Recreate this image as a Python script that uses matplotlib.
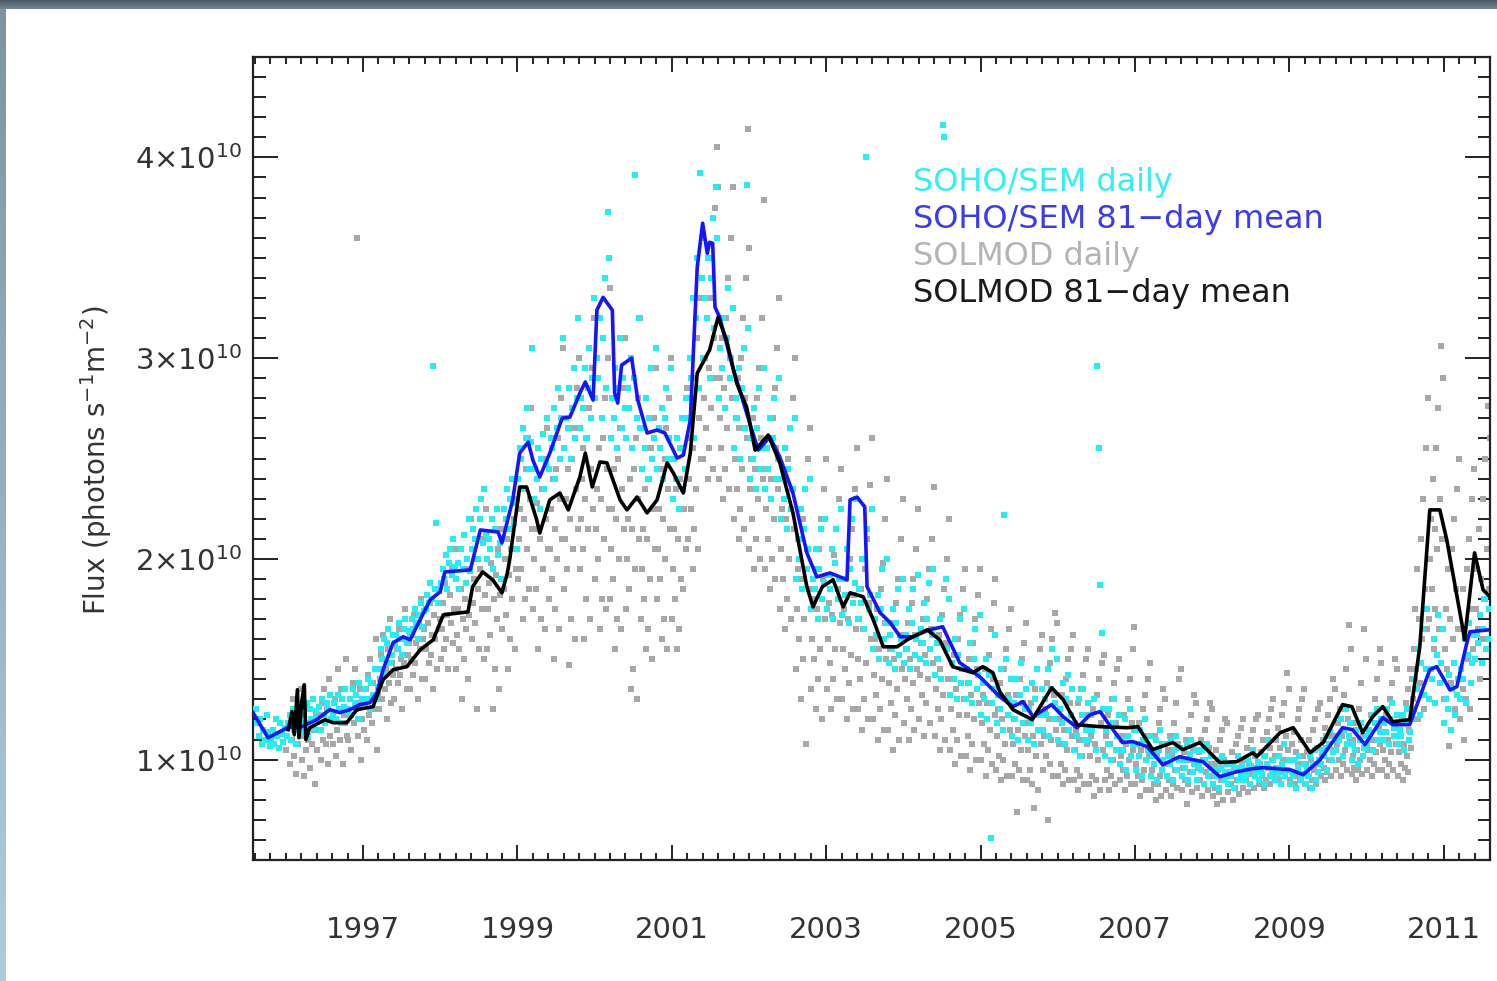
import numpy as np
import matplotlib
matplotlib.use("Agg")
import matplotlib.pyplot as plt
from matplotlib.ticker import MultipleLocator, FixedLocator

# flux values are in units of 1e10 photons s^-1 m^-2, time in decimal years

# SOHO/SEM 81-day mean
sem_mean_t = [1995.575, 1995.77, 1996.02, 1996.21, 1996.40, 1996.57, 1996.70, 1996.83, 1996.96,
              1997.09, 1997.18, 1997.26, 1997.39, 1997.52, 1997.61, 1997.74, 1997.87, 1998.00,
              1998.06, 1998.39, 1998.52, 1998.75, 1998.80, 1998.94, 1999.03, 1999.14, 1999.20,
              1999.29, 1999.42, 1999.58, 1999.68, 1999.81, 1999.88, 1999.98, 2000.03, 2000.11,
              2000.23, 2000.26, 2000.30, 2000.35, 2000.48, 2000.56, 2000.68, 2000.81, 2000.91,
              2001.07, 2001.15, 2001.24, 2001.33, 2001.40, 2001.46, 2001.49, 2001.53, 2001.56,
              2001.62, 2001.79, 2001.97, 2002.12, 2002.27, 2002.40, 2002.57, 2002.75, 2002.88,
              2003.05, 2003.27, 2003.31, 2003.40, 2003.50, 2003.53, 2003.70, 2003.83, 2003.96,
              2004.12, 2004.34, 2004.51, 2004.73, 2004.99, 2005.25, 2005.42, 2005.55, 2005.68,
              2005.92, 2006.07, 2006.25, 2006.42, 2006.55, 2006.64, 2006.84, 2006.97, 2007.16,
              2007.36, 2007.58, 2007.75, 2007.88, 2008.10, 2008.32, 2008.53, 2008.66, 2009.01,
              2009.18, 2009.40, 2009.69, 2009.82, 2009.98, 2010.21, 2010.34, 2010.56, 2010.82,
              2010.91, 2011.08, 2011.17, 2011.30, 2011.34, 2011.60]
sem_mean_f = [1.234, 1.109, 1.159, 1.164, 1.199, 1.249, 1.234, 1.249, 1.274,
              1.284, 1.333, 1.448, 1.582, 1.612, 1.597, 1.697, 1.796, 1.836,
              1.935, 1.945, 2.144, 2.134, 2.080, 2.294, 2.527, 2.582, 2.493,
              2.408, 2.527, 2.701, 2.706, 2.826, 2.881, 2.791, 3.239, 3.303,
              3.239, 2.826, 2.776, 2.965, 3.000, 2.791, 2.627, 2.642, 2.627,
              2.502, 2.517, 2.692, 3.453, 3.672, 3.522, 3.577, 3.572, 3.254,
              3.204, 2.955, 2.726, 2.542, 2.607, 2.507, 2.328, 2.030, 1.910,
              1.930, 1.896, 2.294, 2.308, 2.259, 1.861, 1.731, 1.682, 1.612,
              1.612, 1.647, 1.662, 1.483, 1.413, 1.313, 1.264, 1.289, 1.214,
              1.274, 1.214, 1.159, 1.224, 1.239, 1.189, 1.085, 1.090, 1.065,
              0.975, 1.015, 1.000, 0.990, 0.915, 0.940, 0.955, 0.960, 0.950,
              0.925, 1.000, 1.159, 1.149, 1.075, 1.209, 1.174, 1.174, 1.448,
              1.463, 1.348, 1.363, 1.582, 1.637, 1.647]

# SOLMOD 81-day mean
solmod_mean_t = [1996.03, 1996.08, 1996.11, 1996.15, 1996.17, 1996.21, 1996.24, 1996.26, 1996.31,
                 1996.51, 1996.61, 1996.79, 1996.92, 1997.13, 1997.26, 1997.39, 1997.57, 1997.74,
                 1997.91, 1998.04, 1998.36, 1998.42, 1998.55, 1998.68, 1998.80, 1998.87, 1998.90,
                 1999.03, 1999.12, 1999.25, 1999.29, 1999.42, 1999.55, 1999.66, 1999.81, 1999.88,
                 1999.97, 2000.07, 2000.16, 2000.33, 2000.42, 2000.55, 2000.68, 2000.81, 2000.94,
                 2001.02, 2001.15, 2001.24, 2001.33, 2001.49, 2001.60, 2001.71, 2001.84, 2001.97,
                 2002.08, 2002.25, 2002.40, 2002.57, 2002.75, 2002.83, 2002.95, 2003.09, 2003.22,
                 2003.31, 2003.48, 2003.61, 2003.74, 2003.92, 2004.05, 2004.31, 2004.47, 2004.64,
                 2004.90, 2005.03, 2005.16, 2005.25, 2005.42, 2005.67, 2005.92, 2006.07, 2006.25,
                 2006.55, 2006.90, 2007.04, 2007.23, 2007.49, 2007.62, 2007.84, 2008.10, 2008.32,
                 2008.53, 2008.58, 2008.88, 2009.05, 2009.27, 2009.44, 2009.69, 2009.81, 2009.95,
                 2010.08, 2010.21, 2010.34, 2010.56, 2010.69, 2010.82, 2010.95, 2011.04, 2011.25,
                 2011.27, 2011.40, 2011.51, 2011.60]
solmod_mean_f = [1.149, 1.239, 1.124, 1.348, 1.109, 1.299, 1.373, 1.100, 1.159,
                 1.199, 1.184, 1.184, 1.249, 1.264, 1.398, 1.448, 1.463, 1.547,
                 1.597, 1.721, 1.736, 1.861, 1.935, 1.896, 1.831, 1.930, 1.995,
                 2.358, 2.358, 2.194, 2.129, 2.294, 2.328, 2.244, 2.408, 2.527,
                 2.358, 2.483, 2.478, 2.294, 2.244, 2.308, 2.229, 2.294, 2.478,
                 2.428, 2.328, 2.527, 2.925, 3.040, 3.204, 3.090, 2.876, 2.756,
                 2.542, 2.617, 2.478, 2.229, 1.861, 1.761, 1.861, 1.896, 1.761,
                 1.831, 1.811, 1.697, 1.562, 1.562, 1.597, 1.647, 1.597, 1.463,
                 1.433, 1.463, 1.433, 1.338, 1.249, 1.199, 1.358, 1.299, 1.174,
                 1.164, 1.159, 1.164, 1.050, 1.085, 1.050, 1.085, 0.985, 0.990,
                 1.035, 1.015, 1.134, 1.159, 1.035, 1.085, 1.274, 1.264, 1.134,
                 1.214, 1.264, 1.189, 1.199, 1.562, 2.244, 2.244, 2.095, 1.647,
                 1.597, 2.030, 1.846, 1.811]

# daily values, grouped in 0.2-year bins starting at 1995.6
bin_start = 1995.6
bin_width = 0.2

sem_daily = [
    [1.25, 1.18, 1.12, 1.20, 1.08, 1.15, 1.10, 1.22, 1.14, 1.07],
    [1.10, 1.15, 1.08, 1.20, 1.12, 1.06, 1.18, 1.13, 1.09, 1.16],
    [1.12, 1.18, 1.22, 1.10, 1.25, 1.15, 1.08, 1.20, 1.28, 1.14],
    [1.15, 1.22, 1.18, 1.28, 1.12, 1.25, 1.20, 1.30, 1.16, 1.24],
    [1.20, 1.26, 1.15, 1.30, 1.22, 1.18, 1.28, 1.25, 1.32, 1.20],
    [1.22, 1.28, 1.20, 1.32, 1.25, 1.18, 1.30, 1.26, 1.35, 1.24],
    [1.25, 1.30, 1.22, 1.35, 1.28, 1.32, 1.20, 1.38, 1.26, 1.30],
    [1.28, 1.35, 1.30, 1.40, 1.25, 1.38, 1.32, 1.45, 1.30, 1.36],
    [1.45, 1.55, 1.50, 1.60, 1.42, 1.58, 1.65, 1.48, 1.52, 1.62],
    [1.58, 1.62, 1.55, 1.68, 1.60, 1.52, 1.65, 1.70, 1.58, 1.64],
    [1.62, 1.70, 1.65, 1.75, 1.68, 1.60, 1.72, 1.78, 1.66, 1.74],
    [1.75, 1.82, 1.78, 1.88, 1.80, 2.96, 1.85, 2.18, 1.78, 1.84],
    [1.88, 1.95, 1.90, 2.02, 1.85, 1.98, 2.05, 1.92, 2.10, 1.96],
    [1.90, 1.98, 1.85, 2.05, 1.95, 2.12, 1.88, 2.00, 2.20, 1.94],
    [2.05, 2.15, 2.10, 2.25, 2.00, 2.20, 2.30, 2.08, 2.35, 2.12],
    [2.00, 2.10, 2.05, 2.20, 1.95, 2.15, 2.25, 2.02, 2.08, 1.90],
    [2.10, 2.25, 2.20, 2.35, 2.15, 2.30, 2.40, 2.18, 2.28, 2.05],
    [2.40, 2.55, 2.50, 2.65, 2.35, 2.60, 2.75, 2.45, 2.58, 3.05],
    [2.30, 2.45, 2.40, 2.55, 2.25, 2.50, 2.62, 2.35, 2.48, 2.70],
    [2.45, 2.60, 2.55, 2.75, 2.40, 2.65, 2.85, 2.50, 2.70, 3.10],
    [2.55, 2.70, 2.65, 2.85, 2.50, 2.75, 2.95, 2.60, 2.80, 3.20],
    [2.65, 2.80, 2.75, 2.95, 2.60, 2.85, 3.05, 2.70, 2.90, 3.30],
    [2.80, 3.00, 2.90, 3.20, 2.70, 3.10, 3.40, 2.85, 3.73, 3.50],
    [2.60, 2.80, 2.70, 2.95, 2.55, 2.85, 3.10, 2.65, 2.90, 2.75],
    [2.60, 2.85, 2.75, 3.00, 2.55, 2.90, 3.91, 2.70, 3.20, 2.65],
    [2.45, 2.65, 2.55, 2.80, 2.40, 2.70, 2.95, 2.50, 2.60, 3.05],
    [2.45, 2.65, 2.55, 2.75, 2.40, 2.70, 2.85, 2.50, 2.60, 2.95],
    [2.30, 2.50, 2.40, 2.60, 2.25, 2.55, 2.70, 2.35, 2.45, 2.80],
    [2.70, 3.00, 2.90, 3.30, 2.60, 3.20, 3.50, 2.85, 3.92, 3.40],
    [3.00, 3.30, 3.20, 3.50, 2.90, 3.40, 3.70, 3.15, 3.85, 3.60],
    [2.80, 3.05, 2.95, 3.20, 2.75, 3.10, 3.35, 2.90, 3.00, 3.25],
    [2.55, 2.80, 2.70, 2.95, 2.50, 2.85, 3.05, 2.65, 3.86, 3.15],
    [2.40, 2.60, 2.50, 2.75, 2.35, 2.65, 2.85, 2.45, 2.55, 2.95],
    [2.35, 2.55, 2.45, 2.70, 2.30, 2.60, 2.80, 2.40, 2.50, 2.90],
    [2.20, 2.40, 2.30, 2.55, 2.15, 2.45, 2.65, 2.25, 2.35, 2.70],
    [1.90, 2.10, 2.00, 2.25, 1.85, 2.15, 2.35, 1.95, 2.05, 2.40],
    [1.75, 1.90, 1.85, 2.05, 1.70, 1.95, 2.15, 1.80, 1.88, 2.20],
    [1.75, 1.92, 1.85, 2.05, 1.70, 1.98, 2.15, 1.80, 1.90, 2.25],
    [1.72, 1.90, 1.82, 2.05, 1.68, 1.95, 2.20, 1.78, 1.88, 2.30],
    [1.70, 1.85, 1.78, 2.00, 1.65, 4.00, 2.15, 1.75, 1.82, 2.25],
    [1.55, 1.70, 1.62, 1.82, 1.50, 1.75, 1.95, 1.60, 1.68, 2.00],
    [1.48, 1.62, 1.55, 1.75, 1.45, 1.68, 1.85, 1.52, 1.60, 1.90],
    [1.48, 1.62, 1.55, 1.75, 1.45, 1.68, 1.85, 1.52, 1.60, 1.92],
    [1.50, 1.65, 1.58, 1.78, 1.48, 1.70, 1.88, 1.55, 1.62, 1.95],
    [1.42, 1.58, 1.50, 1.70, 1.40, 4.16, 4.10, 1.90, 1.55, 1.80],
    [1.32, 1.48, 1.40, 1.60, 1.30, 1.52, 1.70, 1.38, 1.45, 1.75],
    [1.30, 1.45, 1.38, 1.58, 1.28, 1.50, 1.65, 1.35, 1.42, 1.72],
    [1.22, 1.38, 1.30, 1.50, 1.20, 1.42, 0.61, 1.28, 1.35, 1.62],
    [1.18, 1.32, 1.25, 1.45, 1.15, 2.22, 1.50, 1.22, 1.30, 1.40],
    [1.12, 1.28, 1.20, 1.40, 1.10, 1.32, 1.48, 1.18, 1.25, 1.35],
    [1.10, 1.25, 1.18, 1.38, 1.08, 1.30, 1.45, 1.15, 1.22, 1.35],
    [1.15, 1.30, 1.22, 1.45, 1.12, 1.35, 1.55, 1.20, 1.28, 1.50],
    [1.10, 1.25, 1.18, 1.38, 1.08, 1.30, 1.42, 1.15, 1.22, 1.35],
    [1.05, 1.18, 1.12, 1.30, 1.02, 1.22, 1.35, 1.10, 1.15, 1.28],
    [1.10, 1.22, 1.15, 1.30, 1.05, 2.96, 2.55, 1.87, 1.63, 1.25],
    [1.02, 1.15, 1.08, 1.25, 1.00, 1.18, 1.30, 1.05, 1.12, 1.22],
    [0.98, 1.10, 1.05, 1.20, 0.95, 1.12, 1.25, 1.02, 1.08, 1.15],
    [0.95, 1.08, 1.02, 1.15, 0.92, 1.10, 1.20, 1.00, 1.05, 1.12],
    [0.92, 1.02, 0.98, 1.10, 0.90, 1.05, 1.15, 0.95, 1.00, 1.08],
    [0.92, 1.02, 0.98, 1.10, 0.90, 1.05, 1.12, 0.95, 1.00, 1.06],
    [0.92, 1.00, 0.96, 1.08, 0.90, 1.03, 1.10, 0.94, 0.98, 1.05],
    [0.90, 0.98, 0.95, 1.05, 0.88, 1.00, 1.08, 0.92, 0.96, 1.02],
    [0.88, 0.95, 0.92, 1.00, 0.86, 0.96, 1.02, 0.90, 0.94, 0.98],
    [0.88, 0.94, 0.92, 0.98, 0.86, 0.96, 1.02, 0.90, 0.93, 0.97],
    [0.90, 0.95, 0.93, 1.00, 0.88, 0.97, 1.05, 0.92, 0.94, 0.99],
    [0.90, 0.96, 0.93, 1.02, 0.88, 0.98, 1.10, 0.92, 0.95, 1.00],
    [0.90, 0.96, 0.93, 1.02, 0.88, 0.98, 1.08, 0.92, 0.95, 1.00],
    [0.88, 0.94, 0.92, 1.00, 0.86, 0.96, 1.02, 0.90, 0.93, 0.98],
    [0.88, 0.95, 0.92, 1.02, 0.86, 0.98, 1.05, 0.90, 0.94, 1.00],
    [0.98, 1.05, 1.02, 1.12, 0.95, 1.08, 1.15, 1.00, 1.04, 1.10],
    [1.05, 1.12, 1.10, 1.20, 1.02, 1.15, 1.25, 1.08, 1.12, 1.18],
    [1.00, 1.08, 1.05, 1.15, 0.98, 1.10, 1.18, 1.02, 1.06, 1.12],
    [1.08, 1.15, 1.12, 1.22, 1.05, 1.18, 1.25, 1.10, 1.14, 1.20],
    [1.10, 1.18, 1.14, 1.25, 1.08, 1.20, 1.28, 1.12, 1.16, 1.22],
    [1.08, 1.15, 1.12, 1.22, 1.05, 1.18, 1.25, 1.10, 1.14, 1.20],
    [1.25, 1.40, 1.35, 1.55, 1.22, 1.48, 1.65, 1.32, 1.45, 1.75],
    [1.30, 1.45, 1.40, 1.60, 1.28, 1.52, 1.72, 1.38, 1.48, 1.65],
    [1.18, 1.30, 1.25, 1.42, 1.15, 1.35, 1.48, 1.22, 1.32, 1.40],
    [1.30, 1.45, 1.40, 1.60, 1.28, 1.52, 1.68, 1.38, 1.48, 1.62],
    [1.50, 1.62, 1.58, 1.72, 1.48, 1.65, 1.80, 1.55, 1.60, 1.75],
]

solmod_daily = [
    [],
    [],
    [1.05, 1.12, 1.18, 0.98, 1.22, 1.10, 1.30, 1.02, 1.15, 0.93, 1.25, 1.08, 1.20, 1.35],
    [1.00, 1.12, 0.92, 1.18, 1.05, 1.25, 1.10, 0.96, 1.20, 1.08, 1.30, 1.15, 0.88, 1.22],
    [1.05, 1.15, 1.22, 1.00, 1.28, 1.10, 1.35, 1.18, 1.08, 1.25, 0.98, 1.40, 1.12, 1.20],
    [1.08, 1.20, 1.30, 1.02, 1.15, 1.45, 1.25, 1.10, 1.35, 0.98, 1.22, 1.18, 1.50, 1.12],
    [1.10, 1.22, 1.30, 1.05, 1.38, 1.18, 1.45, 1.25, 3.60, 1.12, 1.28, 1.35, 1.00, 1.20],
    [1.15, 1.28, 1.35, 1.10, 1.42, 1.22, 1.50, 1.30, 1.18, 1.38, 1.25, 1.60, 1.05, 1.32],
    [1.25, 1.40, 1.52, 1.30, 1.62, 1.35, 1.45, 1.20, 1.55, 1.38, 1.70, 1.28, 1.48, 1.42],
    [1.30, 1.45, 1.55, 1.38, 1.65, 1.42, 1.50, 1.25, 1.60, 1.48, 1.75, 1.35, 1.52, 1.58],
    [1.35, 1.50, 1.62, 1.42, 1.72, 1.48, 1.58, 1.30, 1.68, 1.55, 1.80, 1.40, 1.60, 1.65],
    [1.40, 1.55, 1.68, 1.48, 1.78, 1.52, 1.62, 1.35, 1.72, 1.60, 1.85, 1.45, 1.65, 1.70],
    [1.50, 1.65, 1.78, 1.55, 1.88, 1.60, 1.72, 1.45, 1.82, 1.68, 1.95, 1.58, 1.75, 2.05],
    [1.45, 1.62, 1.75, 1.55, 1.85, 1.30, 1.70, 1.50, 1.80, 1.65, 1.95, 1.40, 1.72, 2.20],
    [1.60, 1.78, 1.90, 1.68, 2.00, 1.25, 1.85, 1.55, 1.95, 1.75, 2.10, 1.50, 1.82, 2.25],
    [1.55, 1.75, 1.88, 1.62, 1.98, 1.25, 1.80, 1.45, 1.92, 1.70, 2.05, 1.35, 1.82, 2.15],
    [1.65, 1.85, 2.00, 1.72, 2.10, 1.45, 1.92, 1.60, 2.05, 1.80, 2.20, 1.55, 1.95, 2.30],
    [1.90, 2.10, 2.25, 1.95, 2.35, 1.70, 2.20, 1.80, 2.45, 2.05, 2.60, 1.85, 2.30, 2.75, 2.15],
    [1.75, 2.00, 2.15, 1.85, 2.28, 1.55, 2.10, 1.70, 2.35, 1.95, 2.50, 1.65, 2.20, 2.65, 2.05],
    [1.80, 2.05, 2.25, 1.90, 2.40, 1.50, 2.15, 1.75, 2.45, 2.00, 2.60, 1.65, 2.30, 2.80, 2.10, 3.05],
    [1.85, 2.10, 2.30, 1.95, 2.45, 1.47, 2.20, 1.70, 2.50, 2.05, 2.65, 1.60, 2.35, 2.85, 2.15, 3.00],
    [1.95, 2.20, 2.40, 2.05, 2.55, 1.60, 2.30, 1.80, 2.60, 2.15, 2.75, 1.70, 2.45, 2.95, 2.25, 3.20],
    [1.90, 2.15, 2.35, 2.00, 2.55, 1.65, 2.30, 1.80, 2.60, 2.10, 2.80, 1.75, 2.45, 3.00, 2.25, 3.35],
    [1.80, 2.05, 2.25, 1.90, 2.45, 1.55, 2.20, 1.70, 2.50, 2.00, 2.65, 1.65, 2.35, 2.85, 2.15, 3.10],
    [1.75, 2.00, 2.20, 1.85, 2.40, 1.35, 2.15, 1.45, 2.45, 1.95, 2.60, 1.30, 2.30, 2.80, 2.10, 3.20],
    [1.70, 1.95, 2.15, 1.80, 2.35, 1.55, 2.10, 1.65, 2.40, 1.90, 2.55, 1.50, 2.25, 2.70, 2.05, 2.95],
    [1.80, 2.05, 2.25, 1.90, 2.45, 1.60, 2.20, 1.70, 2.50, 2.00, 2.65, 1.55, 2.35, 2.80, 2.15, 3.00],
    [1.70, 1.95, 2.15, 1.80, 2.35, 1.55, 2.10, 1.65, 2.40, 1.90, 2.55, 1.85, 2.25, 2.70, 2.05, 2.85],
    [2.10, 2.40, 2.60, 2.25, 2.80, 1.95, 2.55, 2.15, 2.90, 2.35, 3.10, 2.05, 2.70, 3.30, 2.50, 3.60],
    [2.50, 2.80, 3.00, 2.65, 3.20, 2.40, 2.95, 2.55, 3.30, 2.75, 3.50, 2.45, 3.10, 3.75, 2.90, 4.05, 3.85],
    [2.40, 2.70, 2.90, 2.55, 3.10, 2.30, 2.85, 2.45, 3.20, 2.65, 3.40, 2.35, 3.00, 3.60, 2.80, 3.85],
    [2.20, 2.50, 2.70, 2.35, 2.90, 2.10, 2.65, 2.25, 3.00, 2.45, 3.20, 2.15, 2.80, 3.40, 2.60, 4.14, 3.55],
    [2.05, 2.35, 2.50, 2.20, 2.70, 1.95, 2.45, 2.10, 2.80, 2.30, 2.95, 2.00, 2.60, 3.20, 2.40, 3.79],
    [1.95, 2.25, 2.45, 2.10, 2.60, 1.85, 2.40, 2.00, 2.70, 2.20, 2.85, 1.90, 2.55, 3.05, 2.35, 3.30],
    [1.75, 2.05, 2.25, 1.90, 2.40, 1.65, 2.20, 1.80, 2.50, 2.00, 2.65, 1.70, 2.35, 2.80, 2.15, 3.00],
    [1.45, 1.75, 1.95, 1.60, 2.10, 1.30, 1.90, 1.50, 2.20, 1.70, 2.35, 1.08, 2.05, 2.50, 1.85, 2.65],
    [1.35, 1.60, 1.80, 1.50, 1.95, 1.25, 1.75, 1.40, 2.05, 1.55, 2.20, 1.20, 1.90, 2.35, 1.70, 2.50],
    [1.35, 1.60, 1.78, 1.48, 1.92, 1.25, 1.72, 1.40, 2.02, 1.55, 2.15, 1.30, 1.85, 2.30, 1.68, 2.45],
    [1.30, 1.55, 1.75, 1.45, 1.90, 1.20, 1.70, 1.38, 2.00, 1.52, 2.15, 1.25, 1.82, 2.35, 1.65, 2.55],
    [1.25, 1.50, 1.70, 1.40, 1.85, 1.15, 1.65, 1.30, 1.95, 1.48, 2.10, 1.20, 1.78, 2.37, 1.60, 2.60],
    [1.20, 1.42, 1.60, 1.32, 1.75, 1.10, 1.55, 1.25, 1.85, 1.40, 1.98, 1.15, 1.68, 2.20, 1.50, 2.40],
    [1.15, 1.38, 1.55, 1.28, 1.68, 1.05, 1.50, 1.22, 1.78, 1.35, 1.90, 1.10, 1.62, 2.10, 1.45, 2.30],
    [1.18, 1.40, 1.55, 1.30, 1.68, 1.10, 1.50, 1.25, 1.78, 1.38, 1.90, 1.15, 1.62, 2.05, 1.45, 2.25],
    [1.20, 1.42, 1.58, 1.32, 1.70, 1.12, 1.52, 1.28, 1.80, 1.40, 1.95, 1.18, 1.65, 2.10, 1.48, 2.36],
    [1.12, 1.35, 1.50, 1.25, 1.62, 1.05, 1.45, 1.20, 1.72, 1.32, 1.85, 1.10, 1.58, 2.00, 1.40, 2.20],
    [1.05, 1.25, 1.40, 1.15, 1.52, 0.98, 1.35, 1.10, 1.60, 1.22, 1.72, 1.02, 1.45, 1.85, 1.30, 1.95],
    [1.02, 1.22, 1.38, 1.12, 1.50, 0.95, 1.32, 1.08, 1.58, 1.20, 1.70, 1.00, 1.45, 1.82, 1.28, 1.95],
    [1.00, 1.18, 1.32, 1.08, 1.45, 0.92, 1.28, 1.05, 1.52, 1.15, 1.65, 0.98, 1.40, 1.78, 1.22, 1.90],
    [0.95, 1.12, 1.25, 1.02, 1.38, 0.90, 1.20, 1.00, 1.45, 1.08, 1.55, 0.92, 1.32, 1.65, 1.15, 1.75],
    [0.92, 1.08, 1.20, 0.98, 1.32, 0.74, 1.15, 0.95, 1.40, 1.05, 1.50, 0.90, 1.28, 1.58, 1.12, 1.68],
    [0.90, 1.05, 1.18, 0.95, 1.28, 0.88, 1.12, 0.76, 1.35, 1.02, 1.45, 0.85, 1.22, 1.55, 1.08, 1.62],
    [0.95, 1.12, 1.25, 1.02, 1.38, 0.70, 1.20, 0.98, 1.48, 1.10, 1.60, 0.92, 1.32, 1.73, 1.15, 1.68],
    [0.92, 1.08, 1.20, 0.98, 1.32, 0.88, 1.15, 0.95, 1.40, 1.05, 1.50, 0.90, 1.28, 1.55, 1.12, 1.62],
    [0.90, 1.05, 1.15, 0.95, 1.28, 0.85, 1.10, 0.92, 1.35, 1.02, 1.42, 0.88, 1.22, 1.50, 1.08, 1.55],
    [0.88, 1.02, 1.12, 0.92, 1.25, 0.82, 1.08, 0.90, 1.32, 1.00, 1.40, 0.85, 1.18, 1.48, 1.05, 1.52],
    [0.90, 1.02, 1.12, 0.95, 1.22, 0.85, 1.08, 0.92, 1.30, 1.00, 1.38, 0.88, 1.18, 1.45, 1.05, 1.50],
    [0.90, 1.02, 1.12, 0.95, 1.22, 0.85, 1.08, 0.92, 1.30, 1.00, 1.40, 0.88, 1.18, 1.55, 1.05, 1.66],
    [0.88, 0.98, 1.08, 0.92, 1.18, 0.82, 1.05, 0.90, 1.25, 0.95, 1.32, 0.85, 1.12, 1.40, 1.02, 1.48],
    [0.85, 0.95, 1.05, 0.88, 1.12, 0.80, 1.02, 0.88, 1.18, 0.92, 1.25, 0.82, 1.08, 1.35, 0.98, 1.30],
    [0.85, 0.98, 1.05, 0.90, 1.12, 0.82, 1.02, 0.88, 1.18, 0.95, 1.28, 0.86, 1.08, 1.40, 1.00, 1.45],
    [0.85, 0.96, 1.04, 0.90, 1.10, 0.78, 1.00, 0.88, 1.15, 0.94, 1.22, 0.84, 1.06, 1.32, 0.98, 1.28],
    [0.86, 0.96, 1.04, 0.90, 1.10, 0.82, 1.00, 0.88, 1.15, 0.94, 1.20, 0.85, 1.06, 1.28, 0.98, 1.25],
    [0.82, 0.92, 0.98, 0.86, 1.05, 0.78, 0.95, 0.84, 1.10, 0.90, 1.15, 0.80, 1.00, 1.20, 0.94, 1.18],
    [0.84, 0.92, 0.98, 0.88, 1.04, 0.80, 0.95, 0.86, 1.08, 0.90, 1.12, 0.83, 1.00, 1.16, 0.94, 1.20],
    [0.86, 0.95, 1.00, 0.90, 1.06, 0.84, 0.98, 0.88, 1.10, 0.93, 1.15, 0.86, 1.02, 1.20, 0.96, 1.22],
    [0.88, 0.98, 1.04, 0.92, 1.10, 0.86, 1.02, 0.90, 1.14, 0.96, 1.20, 0.88, 1.06, 1.25, 1.00, 1.30],
    [0.92, 1.02, 1.10, 0.96, 1.16, 0.90, 1.06, 0.94, 1.22, 1.00, 1.28, 0.92, 1.12, 1.43, 1.05, 1.35],
    [0.90, 1.00, 1.08, 0.94, 1.14, 0.88, 1.04, 0.92, 1.20, 0.98, 1.25, 0.90, 1.10, 1.30, 1.02, 1.35],
    [0.88, 0.98, 1.04, 0.92, 1.10, 0.86, 1.00, 0.90, 1.15, 0.95, 1.20, 0.88, 1.06, 1.25, 0.98, 1.28],
    [0.92, 1.02, 1.10, 0.96, 1.16, 0.90, 1.06, 0.94, 1.22, 1.00, 1.30, 0.92, 1.12, 1.40, 1.05, 1.35],
    [0.95, 1.08, 1.18, 1.00, 1.25, 0.92, 1.12, 0.98, 1.32, 1.05, 1.45, 0.95, 1.20, 1.67, 1.10, 1.55],
    [0.93, 1.02, 1.10, 0.96, 1.18, 0.90, 1.05, 0.95, 1.25, 1.00, 1.38, 0.93, 1.12, 1.65, 1.06, 1.50],
    [0.95, 1.05, 1.14, 1.00, 1.22, 0.92, 1.10, 0.98, 1.30, 1.04, 1.40, 0.95, 1.16, 1.55, 1.08, 1.48],
    [0.95, 1.05, 1.14, 1.00, 1.22, 0.92, 1.10, 0.98, 1.30, 1.04, 1.38, 0.95, 1.16, 1.50, 1.08, 1.45],
    [0.92, 1.04, 1.12, 0.98, 1.20, 0.90, 1.08, 0.96, 1.28, 1.02, 1.35, 0.94, 1.15, 1.45, 1.06, 1.40],
    [1.30, 1.55, 1.75, 1.45, 1.95, 1.20, 1.70, 1.38, 2.10, 1.60, 2.30, 1.25, 1.85, 2.55, 1.65, 2.80],
    [1.70, 2.00, 2.20, 1.85, 2.40, 1.55, 2.15, 1.75, 2.55, 2.05, 2.75, 1.65, 2.30, 3.06, 2.10, 2.90],
    [1.30, 1.55, 1.75, 1.45, 1.95, 1.07, 1.70, 1.38, 2.05, 1.60, 2.20, 1.25, 1.85, 2.35, 1.65, 2.50],
    [1.20, 1.45, 1.65, 1.35, 1.85, 1.10, 1.60, 1.30, 1.95, 1.50, 2.10, 1.25, 1.75, 2.30, 1.55, 2.45],
    [1.50, 1.75, 1.95, 1.65, 2.15, 1.40, 1.90, 1.60, 2.30, 1.80, 2.50, 1.55, 2.05, 2.76, 1.85, 2.60],
]

legend_labels = ["SOHO/SEM daily", "SOHO/SEM 81\u2212day mean",
                 "SOLMOD daily", "SOLMOD 81\u2212day mean"]
legend_colors = ["#30f0f4", "#3a3af0", "#b4b4b4", "#1a1a1a"]

year_ticks = [1997, 1999, 2001, 2003, 2005, 2007, 2009, 2011]
flux_ticks = [1, 2, 3, 4]


def spread_bins(bins):
    # place the values of each bin one after another across the bin
    xs, ys = [], []
    for i, vals in enumerate(bins):
        n = len(vals)
        for k, v in enumerate(vals):
            xs.append(bin_start + i * bin_width + (k + 0.5) * bin_width / n)
            ys.append(v)
    return np.array(xs), np.array(ys)


W, H = 1497, 981
fig = plt.figure(figsize=(W / 100, H / 100), dpi=100)
fig.patch.set_facecolor("white")

# window frame: dark band on top, light blue-gray strip on the left
bg = fig.add_axes([0, 0, 1, 1])
bg.set_xlim(0, W)
bg.set_ylim(H, 0)
bg.axis("off")
top_band = np.linspace([0.31, 0.36, 0.40], [0.45, 0.52, 0.56], 9).reshape(9, 1, 3)
bg.imshow(top_band, extent=(0, W, 9, 0), aspect="auto", interpolation="bilinear")
left_band = np.linspace([0.50, 0.58, 0.63], [0.68, 0.80, 0.88], 50).reshape(50, 1, 3)
left_band = np.repeat(left_band, 2, axis=1)
bg.imshow(left_band, extent=(0, 6, H, 9), aspect="auto", interpolation="bilinear")

ax = fig.add_axes([253 / W, 1 - 860 / H, (1490 - 253) / W, (860 - 57) / H])

gx, gy = spread_bins(solmod_daily)
cx, cy = spread_bins(sem_daily)
ax.scatter(gx, gy, s=14, marker="s", color="#a8a8a8", linewidths=0, zorder=2)
ax.scatter(cx, cy, s=14, marker="s", color="#22eef4", linewidths=0, zorder=3)
ax.plot(sem_mean_t, sem_mean_f, color="#1414ff", lw=2.6, zorder=4)
ax.plot(solmod_mean_t, solmod_mean_f, color="black", lw=2.6, zorder=5)

ax.set_xlim(1995.575, 2011.6)
ax.set_ylim(0.5, 4.5)

ax.xaxis.set_major_locator(FixedLocator(year_ticks))
ax.xaxis.set_minor_locator(MultipleLocator(0.2))
ax.set_xticklabels([str(y) for y in year_ticks])
ax.yaxis.set_major_locator(FixedLocator(flux_ticks))
ax.yaxis.set_minor_locator(MultipleLocator(0.1))
ax.set_yticklabels([r"$%d{\times}10^{10}$" % v for v in flux_ticks])

ax.tick_params(axis="both", which="both", direction="in", top=True, right=True,
               colors="#222222", width=1.4)
ax.tick_params(axis="x", which="major", length=11, pad=40, labelsize=21, labelcolor="#333333")
ax.tick_params(axis="x", which="minor", length=5)
ax.tick_params(axis="y", which="major", length=18, pad=8, labelsize=21, labelcolor="#333333")
ax.tick_params(axis="y", which="minor", length=9)
for sp in ax.spines.values():
    sp.set_linewidth(1.6)
    sp.set_color("#222222")

fig.text(96 / W, 1 - 460 / H, r"Flux (photons s$^{-1}$m$^{-2}$)", rotation=90,
         ha="center", va="center", fontsize=20, color="#333333")

baselines = [191, 228, 265, 302]
for lab, col, yb in zip(legend_labels, legend_colors, baselines):
    ax.text((913 - 253) / (1490 - 253), (860 - yb) / (860 - 57), lab, color=col,
            fontsize=23, ha="left", va="baseline", transform=ax.transAxes, zorder=6)

fig.savefig("out.png", dpi=100)
